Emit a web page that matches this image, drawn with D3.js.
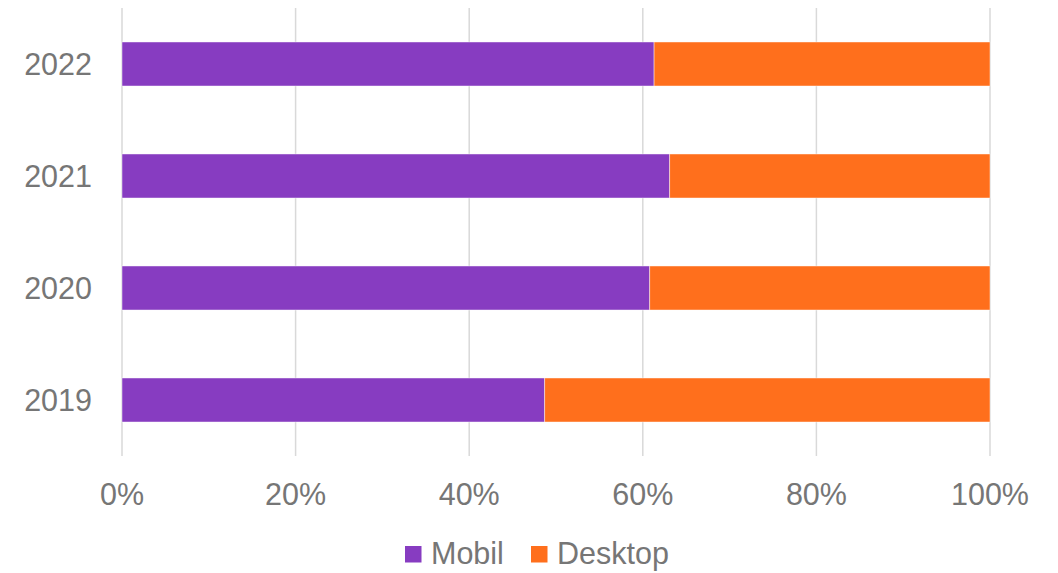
<!DOCTYPE html>
<html>
<head>
<meta charset="utf-8">
<script src="https://cdn.jsdelivr.net/npm/d3@7"></script>
<style>
  body { margin: 0; background: #fff; }
  text { font-family: "Liberation Sans", Arial, sans-serif; fill: #767676; }
</style>
</head>
<body>
<div id="chart"></div>
<script>
// data
var years = ["2022", "2021", "2020", "2019"];
var mobil = [61.3, 63.1, 60.8, 48.7];
var desktop = [38.7, 36.9, 39.2, 51.3];
var seriesNames = ["Mobil", "Desktop"];
var seriesColors = ["#873cc1", "#ff6f1c"];
var xTicks = [0, 20, 40, 60, 80, 100];

var width = 1058, height = 573;
var fontSize = "30.5px";

var svg = d3.select("#chart").append("svg")
    .attr("width", width)
    .attr("height", height);

var x = d3.scaleLinear()
    .domain([0, 100])
    .range([122, 990]);

var y = d3.scaleBand()
    .domain(years)
    .range([8, 456])
    .paddingInner(0.607)
    .paddingOuter(0.3035);

// gridlines
svg.append("g")
    .selectAll("line")
    .data(xTicks)
    .enter().append("line")
    .attr("x1", function(d){ return x(d); })
    .attr("x2", function(d){ return x(d); })
    .attr("y1", 8)
    .attr("y2", 456)
    .attr("stroke", "#d9d9d9")
    .attr("stroke-width", 1.5);

var rows = years.map(function(yr, i){
    return { year: yr, Mobil: mobil[i], Desktop: desktop[i] };
});

var stack = d3.stack().keys(seriesNames)(rows);

svg.append("g")
    .selectAll("g")
    .data(stack)
    .enter().append("g")
    .attr("fill", function(d, i){ return seriesColors[i]; })
    .selectAll("rect")
    .data(function(d){ return d; })
    .enter().append("rect")
    .attr("x", function(d){ return x(d[0]); })
    .attr("width", function(d){ return x(d[1]) - x(d[0]); })
    .attr("y", function(d){ return y(d.data.year); })
    .attr("height", y.bandwidth())
    .attr("stroke", "#ffffff")
    .attr("stroke-opacity", 0.6)
    .attr("stroke-width", 0.75);

// y labels
svg.append("g")
    .selectAll("text")
    .data(years)
    .enter().append("text")
    .attr("x", 92)
    .attr("y", function(d){ return y(d) + y.bandwidth() / 2; })
    .attr("dy", "0.35em")
    .attr("text-anchor", "end")
    .style("font-size", fontSize)
    .text(function(d){ return d; });

// x labels
svg.append("g")
    .selectAll("text")
    .data(xTicks)
    .enter().append("text")
    .attr("x", function(d){ return x(d); })
    .attr("y", 505)
    .attr("text-anchor", "middle")
    .style("font-size", fontSize)
    .text(function(d){ return d + "%"; });

// legend
var legend = svg.append("g");
var legendX = [405, 531];

seriesNames.forEach(function(name, i){
    legend.append("rect")
        .attr("x", legendX[i])
        .attr("y", 546)
        .attr("width", 16.5)
        .attr("height", 16.5)
        .attr("fill", seriesColors[i]);

    legend.append("text")
        .attr("x", legendX[i] + 26)
        .attr("y", 564)
        .style("font-size", fontSize)
        .text(name);
});
</script>
</body>
</html>
